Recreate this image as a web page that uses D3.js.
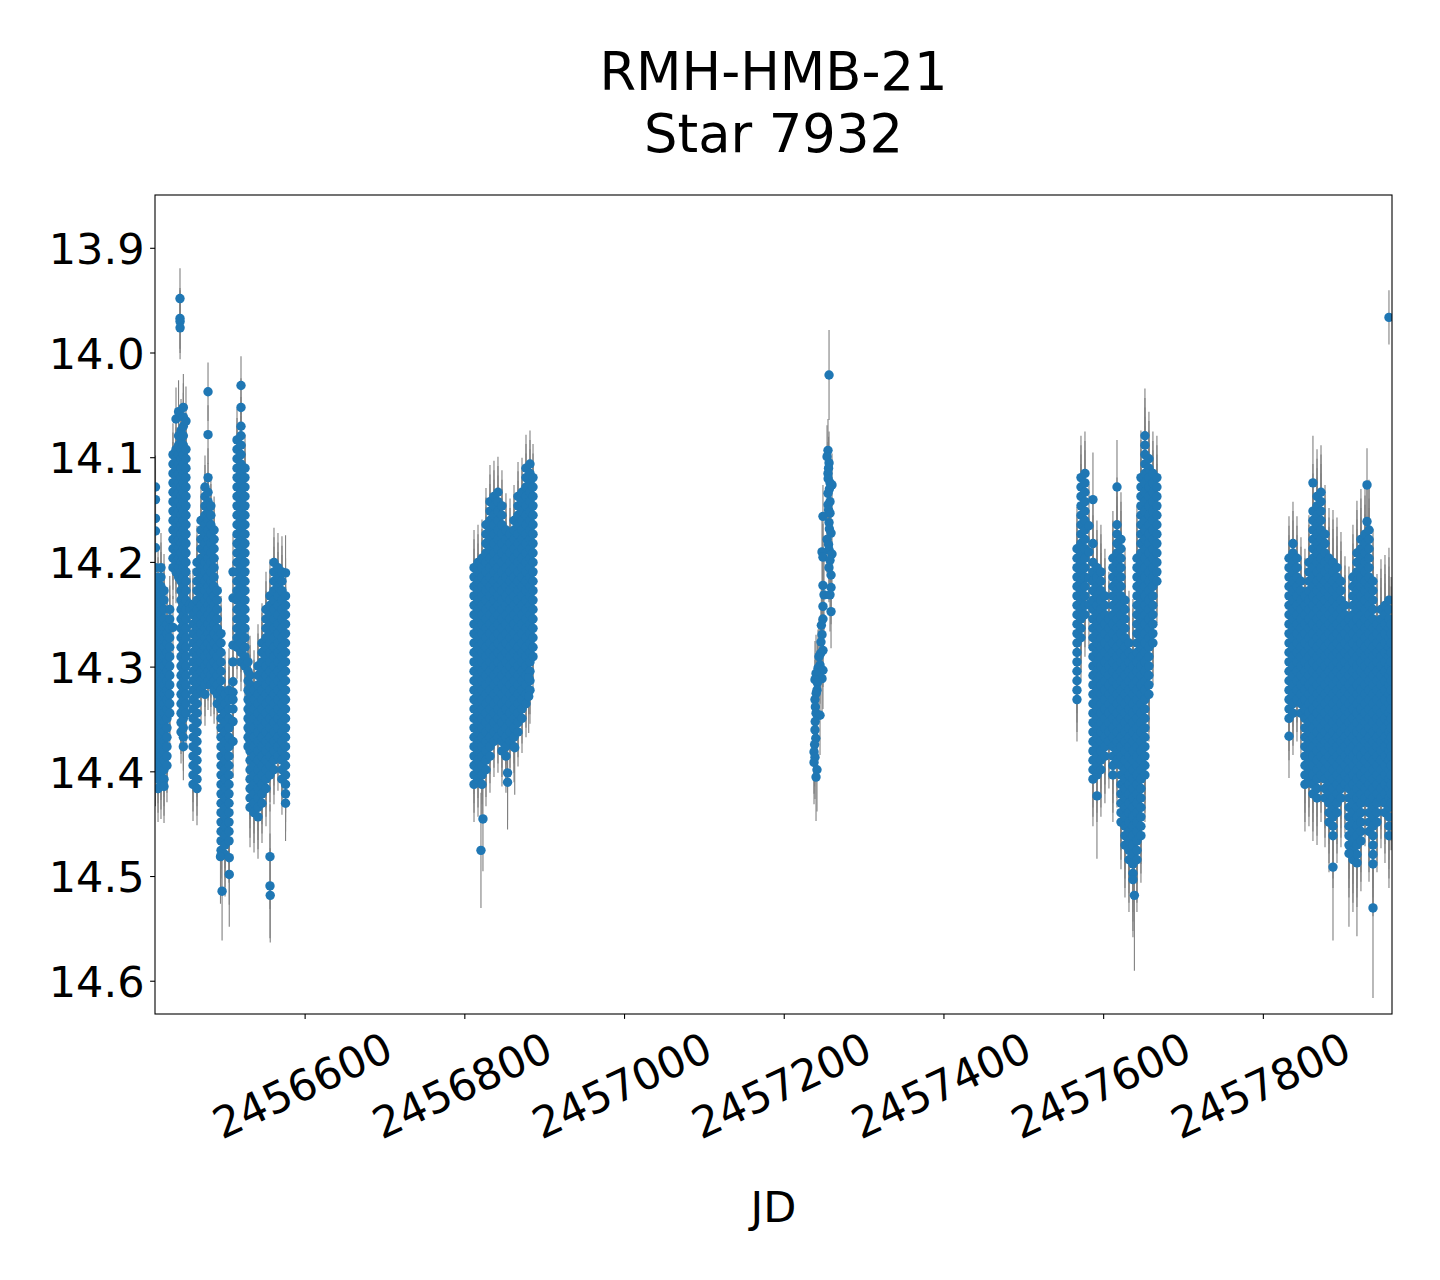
<!DOCTYPE html>
<html>
<head>
<meta charset="utf-8">
<script src="https://cdn.jsdelivr.net/npm/d3@7"></script>
<style>
  html, body { margin: 0; padding: 0; background: #ffffff; }
  svg { display: block; }
  text { font-family: "DejaVu Sans", sans-serif; fill: #000; }
</style>
</head>
<body>
<svg id="chart" width="1440" height="1280"></svg>
<script>
// ---------------- data ----------------
const titleLines = ["RMH-HMB-21", "Star 7932"];
const xLabel = "JD";
const JD0 = 2456000;                 // time values below are JD - 2456000
const xDomain = [2456412.0, 2457961.1];
const yDomain = [13.8491, 14.6313];  // inverted axis (bright at top)
const xTicks = [2456600, 2456800, 2457000, 2457200, 2457400, 2457600, 2457800];
const yTicks = [13.9, 14.0, 14.1, 14.2, 14.3, 14.4, 14.5, 14.6];

// Each entry: [time, error, [magnitudes measured that night]]
const season1 = [
 [412.6,.030,[14.128,14.140,14.158,14.170,14.186,14.205,14.214,14.223,14.232,14.241,14.250,14.259,14.268,14.277,14.286,14.295,14.304,14.313,14.322,14.331,14.340,14.349,14.358,14.367,14.376,14.385,14.394,14.403]],
 [415.8,.032,[14.218,14.227,14.236,14.245,14.254,14.263,14.272,14.281,14.290,14.299,14.308,14.317,14.326,14.335,14.344,14.353,14.362,14.371,14.380,14.389,14.398,14.407,14.416]],
 [419.5,.033,[14.205,14.214,14.223,14.232,14.241,14.250,14.259,14.268,14.277,14.286,14.295,14.304,14.313,14.322,14.331,14.340,14.349,14.358,14.367,14.376,14.385,14.394,14.403,14.412]],
 [423.3,.035,[14.227,14.236,14.245,14.254,14.263,14.272,14.281,14.290,14.299,14.308,14.317,14.326,14.335,14.344,14.353,14.362,14.371,14.380,14.389,14.398,14.407,14.414]],
 [427.0,.035,[14.259,14.268,14.277,14.286,14.295,14.304,14.313,14.322,14.331,14.340,14.349,14.358,14.367,14.376,14.385,14.394]],
 [430.5,.032,[14.245,14.254,14.263,14.272,14.281,14.290,14.299,14.308,14.317,14.326,14.335,14.344]],
 [434.5,.030,[14.097,14.106,14.115,14.124,14.133,14.142,14.151,14.160,14.169,14.178,14.187,14.196,14.205,14.262]],
 [438.3,.030,[14.063,14.092,14.101,14.110,14.119,14.128,14.137,14.146,14.155,14.164,14.173,14.182,14.191,14.200,14.209]],
 [441.5,.030,[14.056,14.079,14.088,14.097,14.106,14.115,14.124,14.133,14.142,14.151,14.160,14.169,14.178,14.187,14.196,14.205,14.214]],
 [444.6,.030,[14.074,14.083,14.092,14.101,14.110,14.119,14.128,14.137,14.146,14.155,14.164,14.173,14.182,14.191,14.200,14.209,14.218,14.227,14.236,14.245,14.254,14.263,14.272,14.281,14.290,14.299,14.308,14.317,14.326,14.335,14.344,14.353,14.362]],
 [447.5,.032,[14.052,14.061,14.070,14.079,14.088,14.097,14.106,14.115,14.124,14.133,14.142,14.151,14.160,14.169,14.178,14.187,14.196,14.205,14.214,14.223,14.232,14.241,14.250,14.259,14.268,14.277,14.286,14.295,14.304,14.313,14.322,14.331,14.340,14.349,14.358,14.367,14.376]],
 [450.8,.033,[14.065,14.092,14.101,14.110,14.119,14.128,14.137,14.146,14.155,14.164,14.173,14.182,14.191,14.200,14.209,14.218,14.227,14.236,14.245,14.254,14.263,14.272,14.281,14.290,14.299,14.308,14.317,14.326,14.335,14.344]],
 [455.8,.030,[14.240,14.245]],
 [459.6,.035,[14.241,14.250,14.259,14.268,14.277,14.286,14.295,14.304,14.313,14.322,14.331,14.340,14.349,14.358,14.367,14.376,14.385,14.394,14.403,14.412]],
 [464.6,.035,[14.200,14.209,14.218,14.227,14.236,14.245,14.254,14.263,14.272,14.281,14.290,14.299,14.308,14.317,14.326,14.335,14.344,14.353,14.362,14.371,14.380,14.389,14.398,14.407,14.416]],
 [469.6,.032,[14.160,14.169,14.178,14.187,14.196,14.205,14.214,14.223,14.232,14.241,14.250,14.259,14.268,14.277,14.286,14.295,14.304,14.313,14.322]],
 [474.6,.030,[14.128,14.137,14.146,14.155,14.164,14.173,14.182,14.191,14.200,14.209,14.218,14.227,14.236,14.245,14.254,14.263,14.272,14.281,14.290,14.299,14.308,14.317,14.326]],
 [478.4,.028,[14.037,14.078,14.119,14.133,14.142,14.151,14.160,14.169,14.178,14.187,14.196,14.205,14.214,14.223,14.232,14.241,14.250,14.259,14.268,14.277,14.286,14.295,14.304,14.313]],
 [482.0,.030,[14.146,14.155,14.164,14.173,14.182,14.191,14.200,14.209,14.218,14.227,14.236,14.245,14.254,14.263,14.272,14.281,14.290,14.299,14.308,14.317]],
 [486.0,.032,[14.169,14.178,14.187,14.196,14.205,14.214,14.223,14.232,14.241,14.250,14.259,14.268,14.277,14.286,14.295,14.304,14.313,14.322]],
 [490.0,.032,[14.227,14.236,14.245,14.254,14.263,14.272,14.281,14.290,14.299,14.308,14.317,14.326,14.335]],
 [494.7,.036,[14.268,14.277,14.286,14.295,14.304,14.313,14.322,14.331,14.340,14.349,14.358,14.367,14.376,14.385,14.394,14.403,14.412,14.421,14.430,14.439,14.448,14.457,14.466,14.475]],
 [499.7,.040,[14.326,14.335,14.344,14.353,14.362,14.371,14.380,14.389,14.398,14.407,14.416,14.425,14.434,14.443,14.452,14.461,14.470,14.479]],
 [504.7,.040,[14.322,14.331,14.340,14.349,14.358,14.367,14.376,14.385,14.394,14.403,14.412,14.421,14.430,14.439,14.448,14.457,14.466]],
 [509.7,.035,[14.209,14.234,14.279,14.295,14.314,14.324,14.331,14.340,14.352,14.371]],
 [514.7,.030,[14.083,14.092,14.101,14.110,14.119,14.128,14.137,14.146,14.155,14.164,14.173,14.182,14.191,14.200,14.209,14.218,14.227,14.236,14.245,14.254,14.263,14.272,14.281]],
 [519.7,.028,[14.031,14.052,14.070,14.079,14.088,14.097,14.106,14.115,14.124,14.133,14.142,14.151,14.160,14.169,14.178,14.187,14.196,14.205,14.214,14.223,14.232,14.241,14.250,14.259,14.268,14.277,14.286,14.295]],
 [524.7,.032,[14.110,14.119,14.128,14.137,14.146,14.155,14.164,14.173,14.182,14.191,14.200,14.209,14.218,14.227,14.236,14.245,14.254,14.263,14.272,14.281,14.290,14.299]],
 [528.5,.035,[14.295,14.304,14.313,14.322,14.331,14.340,14.349,14.358,14.367,14.376]],
 [531.0,.038,[14.308,14.317,14.326,14.335,14.344,14.353,14.362,14.371,14.380,14.389,14.398,14.407,14.416,14.425,14.434]],
 [536.0,.038,[14.322,14.331,14.340,14.349,14.358,14.367,14.376,14.385,14.394,14.403,14.412,14.421,14.430,14.439]],
 [541.0,.040,[14.299,14.308,14.317,14.326,14.335,14.344,14.353,14.362,14.371,14.380,14.389,14.398,14.407,14.416,14.425,14.434,14.443]],
 [546.0,.038,[14.277,14.286,14.295,14.304,14.313,14.322,14.331,14.340,14.349,14.358,14.367,14.376,14.385,14.394,14.403,14.412,14.421,14.430]],
 [551.0,.036,[14.245,14.254,14.263,14.272,14.281,14.290,14.299,14.308,14.317,14.326,14.335,14.344,14.353,14.362,14.371,14.380,14.389,14.398,14.407,14.416]],
 [556.0,.035,[14.232,14.241,14.250,14.259,14.268,14.277,14.286,14.295,14.304,14.313,14.322,14.331,14.340,14.349,14.358,14.367,14.376,14.385,14.394,14.403]],
 [561.0,.033,[14.200,14.209,14.218,14.227,14.236,14.245,14.254,14.263,14.272,14.281,14.290,14.299,14.308,14.317,14.326,14.335,14.344,14.353,14.362,14.371,14.380,14.389,14.398]],
 [566.0,.033,[14.205,14.214,14.223,14.232,14.241,14.250,14.259,14.268,14.277,14.286,14.295,14.304,14.313,14.322,14.331,14.340,14.349,14.358,14.367,14.376,14.385]],
 [571.0,.034,[14.209,14.218,14.227,14.236,14.245,14.254,14.263,14.272,14.281,14.290,14.299,14.308,14.317,14.326,14.335,14.344,14.353,14.362,14.371,14.380,14.389,14.398,14.407]],
 [575.5,.036,[14.210,14.232,14.241,14.250,14.259,14.268,14.277,14.286,14.295,14.304,14.313,14.322,14.331,14.340,14.349,14.358,14.367,14.376,14.385,14.394,14.403,14.412,14.421,14.430]]
];

const season2 = [
 [811.5,.036,[14.205,14.214,14.223,14.232,14.241,14.250,14.259,14.268,14.277,14.286,14.295,14.304,14.313,14.322,14.331,14.340,14.349,14.358,14.367,14.376,14.385,14.394,14.403,14.412]],
 [816.5,.036,[14.200,14.209,14.218,14.227,14.236,14.245,14.254,14.263,14.272,14.281,14.290,14.299,14.308,14.317,14.326,14.335,14.344,14.353,14.362,14.371,14.380,14.389,14.398,14.407]],
 [821.5,.037,[14.196,14.205,14.214,14.223,14.232,14.241,14.250,14.259,14.268,14.277,14.286,14.295,14.304,14.313,14.322,14.331,14.340,14.349,14.358,14.367,14.376,14.385,14.394,14.403,14.412]],
 [826.5,.035,[14.164,14.173,14.182,14.191,14.200,14.209,14.218,14.227,14.236,14.245,14.254,14.263,14.272,14.281,14.290,14.299,14.308,14.317,14.326,14.335,14.344,14.353,14.362,14.371,14.380,14.389,14.398]],
 [831.5,.035,[14.142,14.151,14.160,14.169,14.178,14.187,14.196,14.205,14.214,14.223,14.232,14.241,14.250,14.259,14.268,14.277,14.286,14.295,14.304,14.313,14.322,14.331,14.340,14.349,14.358,14.367,14.376,14.385]],
 [836.5,.034,[14.137,14.146,14.155,14.164,14.173,14.182,14.191,14.200,14.209,14.218,14.227,14.236,14.245,14.254,14.263,14.272,14.281,14.290,14.299,14.308,14.317,14.326,14.335,14.344,14.353,14.362,14.371]],
 [841.5,.034,[14.133,14.142,14.151,14.160,14.169,14.178,14.187,14.196,14.205,14.214,14.223,14.232,14.241,14.250,14.259,14.268,14.277,14.286,14.295,14.304,14.313,14.322,14.331,14.340,14.349,14.358,14.367]],
 [846.5,.034,[14.146,14.155,14.164,14.173,14.182,14.191,14.200,14.209,14.218,14.227,14.236,14.245,14.254,14.263,14.272,14.281,14.290,14.299,14.308,14.317,14.326,14.335,14.344,14.353,14.362,14.371,14.380]],
 [851.5,.035,[14.169,14.178,14.187,14.196,14.205,14.214,14.223,14.232,14.241,14.250,14.259,14.268,14.277,14.286,14.295,14.304,14.313,14.322,14.331,14.340,14.349,14.358,14.367,14.376,14.385]],
 [856.6,.034,[14.173,14.182,14.191,14.200,14.209,14.218,14.227,14.236,14.245,14.254,14.263,14.272,14.281,14.290,14.299,14.308,14.317,14.326,14.335,14.344,14.353,14.362,14.371]],
 [861.6,.034,[14.160,14.169,14.178,14.187,14.196,14.205,14.214,14.223,14.232,14.241,14.250,14.259,14.268,14.277,14.286,14.295,14.304,14.313,14.322,14.331,14.340,14.349,14.358,14.367,14.376]],
 [866.6,.033,[14.137,14.146,14.155,14.164,14.173,14.182,14.191,14.200,14.209,14.218,14.227,14.236,14.245,14.254,14.263,14.272,14.281,14.290,14.299,14.308,14.317,14.326,14.335,14.344,14.353,14.362]],
 [871.6,.033,[14.133,14.142,14.151,14.160,14.169,14.178,14.187,14.196,14.205,14.214,14.223,14.232,14.241,14.250,14.259,14.268,14.277,14.286,14.295,14.304,14.313,14.322,14.331,14.340,14.349]],
 [876.6,.032,[14.110,14.119,14.128,14.137,14.146,14.155,14.164,14.173,14.182,14.191,14.200,14.209,14.218,14.227,14.236,14.245,14.254,14.263,14.272,14.281,14.290,14.299,14.308,14.317,14.326,14.335]],
 [881.6,.032,[14.106,14.115,14.124,14.133,14.142,14.151,14.160,14.169,14.178,14.187,14.196,14.205,14.214,14.223,14.232,14.241,14.250,14.259,14.268,14.277,14.286,14.295,14.304,14.313,14.322]],
 [885.4,.032,[14.119,14.128,14.137,14.146,14.155,14.164,14.173,14.182,14.191,14.200,14.209,14.218,14.227,14.236,14.245,14.254,14.263,14.272,14.281,14.290]]
];

const season4 = [
 [1566.6,.040,[14.187,14.196,14.205,14.214,14.223,14.232,14.241,14.250,14.259,14.268,14.277,14.286,14.295,14.304,14.313,14.322,14.331]],
 [1571.6,.040,[14.119,14.128,14.137,14.146,14.155,14.164,14.173,14.182,14.191,14.200,14.209,14.218,14.227,14.236,14.245,14.254,14.263,14.272]],
 [1576.6,.040,[14.115,14.124,14.133,14.142,14.151,14.160,14.169,14.178,14.187,14.196,14.205,14.214,14.223,14.232,14.241,14.250]],
 [1581.6,.040,[14.165,14.190,14.215,14.240]],
 [1586.6,.045,[14.140,14.182,14.200,14.209,14.218,14.227,14.236,14.245,14.254,14.263,14.272,14.281,14.290,14.299,14.308,14.317,14.326,14.335,14.344,14.353,14.362,14.371,14.380,14.389,14.398,14.407]],
 [1591.6,.045,[14.205,14.214,14.223,14.232,14.241,14.250,14.259,14.268,14.277,14.286,14.295,14.304,14.313,14.322,14.331,14.340,14.349,14.358,14.367,14.376,14.385,14.394,14.403]],
 [1596.6,.045,[14.209,14.218,14.227,14.236,14.245,14.254,14.263,14.272,14.281,14.290,14.299,14.308,14.317,14.326,14.335,14.344,14.353,14.362,14.371,14.380,14.389,14.398]],
 [1601.6,.045,[14.232,14.241,14.250,14.259,14.268,14.277,14.286,14.295,14.304,14.313,14.322,14.331,14.340,14.349,14.358,14.367,14.376,14.385]],
 [1606.6,.045,[14.254,14.263,14.272,14.281,14.290,14.299,14.308,14.317,14.326,14.335,14.344,14.353,14.362,14.371]],
 [1611.6,.045,[14.196,14.205,14.214,14.223,14.232,14.241,14.250,14.259,14.268,14.277,14.286,14.295,14.304,14.313,14.322,14.331,14.340,14.349,14.358,14.367,14.376,14.385,14.394,14.403]],
 [1616.7,.045,[14.128,14.164,14.173,14.182,14.191,14.200,14.209,14.218,14.227,14.236,14.245,14.254,14.263,14.272,14.281,14.290,14.299,14.308,14.317,14.326,14.335,14.344,14.353,14.362,14.371,14.380,14.389]],
 [1621.7,.045,[14.178,14.187,14.196,14.205,14.214,14.223,14.232,14.241,14.250,14.259,14.268,14.277,14.286,14.295,14.304,14.313,14.322,14.331,14.340,14.349,14.358,14.367,14.376,14.385,14.394,14.403,14.412,14.421,14.430,14.439,14.448]],
 [1626.7,.050,[14.236,14.245,14.254,14.263,14.272,14.281,14.290,14.299,14.308,14.317,14.326,14.335,14.344,14.353,14.362,14.371,14.380,14.389,14.398,14.407,14.416,14.425,14.434,14.443,14.452,14.461,14.470]],
 [1631.7,.050,[14.277,14.286,14.295,14.304,14.313,14.322,14.331,14.340,14.349,14.358,14.367,14.376,14.385,14.394,14.403,14.412,14.421,14.430,14.439,14.448,14.457,14.466,14.475,14.484]],
 [1636.7,.055,[14.290,14.299,14.308,14.317,14.326,14.335,14.344,14.353,14.362,14.371,14.380,14.389,14.398,14.407,14.416,14.425,14.434,14.443,14.452,14.461,14.470,14.479,14.488,14.497,14.503]],
 [1641.7,.050,[14.196,14.205,14.214,14.223,14.232,14.241,14.250,14.259,14.268,14.277,14.286,14.295,14.304,14.313,14.322,14.331,14.340,14.349,14.358,14.367,14.376,14.385,14.394,14.403,14.412,14.421,14.430,14.439,14.448,14.457,14.466,14.475,14.484]],
 [1646.7,.045,[14.119,14.128,14.137,14.146,14.155,14.164,14.173,14.182,14.191,14.200,14.209,14.218,14.227,14.236,14.245,14.254,14.263,14.272,14.281,14.290,14.299,14.308,14.317,14.326,14.335,14.344,14.353,14.362,14.371,14.380,14.389,14.398,14.407,14.416,14.425,14.434,14.443,14.452,14.461]],
 [1651.7,.045,[14.079,14.088,14.097,14.106,14.115,14.124,14.133,14.142,14.151,14.160,14.169,14.178,14.187,14.196,14.205,14.214,14.223,14.232,14.241,14.250,14.259,14.268,14.277,14.286,14.295,14.304,14.313,14.322,14.331,14.340,14.349,14.358,14.367,14.376,14.385,14.394,14.403]],
 [1656.7,.045,[14.101,14.110,14.119,14.128,14.137,14.146,14.155,14.164,14.173,14.182,14.191,14.200,14.209,14.218,14.227,14.236,14.245,14.254,14.263,14.272,14.281,14.290,14.299,14.308,14.317,14.326]],
 [1661.7,.040,[14.115,14.124,14.133,14.142,14.151,14.160,14.169,14.178,14.187,14.196,14.205,14.214,14.223,14.232,14.241,14.250,14.259,14.268,14.277]],
 [1666.7,.040,[14.119,14.128,14.137,14.146,14.155,14.164,14.173,14.182,14.191,14.200,14.209,14.218]]
];

const season5 = [
 [1832.1,.040,[14.196,14.205,14.214,14.223,14.232,14.241,14.250,14.259,14.268,14.277,14.286,14.295,14.304,14.313,14.322,14.331,14.340,14.349,14.366]],
 [1837.1,.040,[14.182,14.191,14.200,14.209,14.218,14.227,14.236,14.245,14.254,14.263,14.272,14.281,14.290,14.299,14.308,14.317,14.326,14.335,14.344]],
 [1842.1,.040,[14.196,14.205,14.214,14.223,14.232,14.241,14.250,14.259,14.268,14.277,14.286,14.295,14.304,14.313,14.322,14.331]],
 [1847.1,.042,[14.218,14.227,14.236,14.245,14.254,14.263,14.272,14.281,14.290,14.299,14.308,14.317,14.326,14.335,14.344]],
 [1852.1,.045,[14.232,14.241,14.250,14.259,14.268,14.277,14.286,14.295,14.304,14.313,14.322,14.331,14.340,14.349,14.358,14.367,14.376,14.385,14.394,14.403,14.412]],
 [1857.1,.045,[14.200,14.209,14.218,14.227,14.236,14.245,14.254,14.263,14.272,14.281,14.290,14.299,14.308,14.317,14.326,14.335,14.344,14.353,14.362,14.371,14.380,14.389,14.398,14.407]],
 [1862.1,.045,[14.124,14.151,14.160,14.169,14.178,14.187,14.196,14.205,14.214,14.223,14.232,14.241,14.250,14.259,14.268,14.277,14.286,14.295,14.304,14.313,14.322,14.331,14.340,14.349,14.358,14.367,14.376,14.385,14.394,14.403,14.412,14.421]],
 [1867.2,.045,[14.137,14.146,14.155,14.164,14.173,14.182,14.191,14.200,14.209,14.218,14.227,14.236,14.245,14.254,14.263,14.272,14.281,14.290,14.299,14.308,14.317,14.326,14.335,14.344,14.353,14.362,14.371,14.380,14.389,14.398,14.407,14.416,14.425]],
 [1872.2,.045,[14.133,14.142,14.151,14.160,14.169,14.178,14.187,14.196,14.205,14.214,14.223,14.232,14.241,14.250,14.259,14.268,14.277,14.286,14.295,14.304,14.313,14.322,14.331,14.340,14.349,14.358,14.367,14.376,14.385,14.394,14.403]],
 [1877.2,.047,[14.173,14.182,14.191,14.200,14.209,14.218,14.227,14.236,14.245,14.254,14.263,14.272,14.281,14.290,14.299,14.308,14.317,14.326,14.335,14.344,14.353,14.362,14.371,14.380,14.389,14.398,14.407,14.416,14.425]],
 [1882.2,.048,[14.196,14.205,14.214,14.223,14.232,14.241,14.250,14.259,14.268,14.277,14.286,14.295,14.304,14.313,14.322,14.331,14.340,14.349,14.358,14.367,14.376,14.385,14.394,14.403,14.412,14.421,14.430,14.439,14.448]],
 [1887.2,.050,[14.200,14.209,14.218,14.227,14.236,14.245,14.254,14.263,14.272,14.281,14.290,14.299,14.308,14.317,14.326,14.335,14.344,14.353,14.362,14.371,14.380,14.389,14.398,14.407,14.416,14.425,14.434,14.443,14.452,14.461]],
 [1892.2,.048,[14.205,14.214,14.223,14.232,14.241,14.250,14.259,14.268,14.277,14.286,14.295,14.304,14.313,14.322,14.331,14.340,14.349,14.358,14.367,14.376,14.385,14.394,14.403,14.412,14.421,14.430,14.439]],
 [1897.2,.047,[14.218,14.227,14.236,14.245,14.254,14.263,14.272,14.281,14.290,14.299,14.308,14.317,14.326,14.335,14.344,14.353,14.362,14.371,14.380,14.389,14.398,14.407,14.416,14.425]],
 [1902.2,.047,[14.241,14.250,14.259,14.268,14.277,14.286,14.295,14.304,14.313,14.322,14.331,14.340,14.349,14.358,14.367,14.376,14.385,14.394,14.403,14.412]],
 [1907.2,.050,[14.254,14.263,14.272,14.281,14.290,14.299,14.308,14.317,14.326,14.335,14.344,14.353,14.362,14.371,14.380,14.389,14.398,14.407,14.416,14.425,14.434,14.443,14.452,14.461,14.470]],
 [1912.2,.050,[14.214,14.223,14.232,14.241,14.250,14.259,14.268,14.277,14.286,14.295,14.304,14.313,14.322,14.331,14.340,14.349,14.358,14.367,14.376,14.385,14.394,14.403,14.412,14.421,14.430,14.439,14.448,14.457,14.466,14.475,14.484]],
 [1917.2,.050,[14.191,14.200,14.209,14.218,14.227,14.236,14.245,14.254,14.263,14.272,14.281,14.290,14.299,14.308,14.317,14.326,14.335,14.344,14.353,14.362,14.371,14.380,14.389,14.398,14.407,14.416,14.425,14.434,14.443,14.452,14.461,14.470,14.479]],
 [1922.2,.048,[14.178,14.187,14.196,14.205,14.214,14.223,14.232,14.241,14.250,14.259,14.268,14.277,14.286,14.295,14.304,14.313,14.322,14.331,14.340,14.349,14.358,14.367,14.376,14.385,14.394,14.403,14.412,14.421,14.430,14.439,14.448,14.457,14.466]],
 [1927.3,.046,[14.173,14.182,14.191,14.200,14.209,14.218,14.227,14.236,14.245,14.254,14.263,14.272,14.281,14.290,14.299,14.308,14.317,14.326,14.335,14.344,14.353,14.362,14.371,14.380,14.389,14.398,14.407,14.416,14.425]],
 [1929.8,.035,[14.126,14.161]],
 [1932.3,.048,[14.169,14.178,14.187,14.196,14.205,14.214,14.223,14.232,14.241,14.250,14.259,14.268,14.277,14.286,14.295,14.304,14.313,14.322,14.331,14.340,14.349,14.358,14.367,14.376,14.385,14.394,14.403,14.412,14.421,14.430,14.439,14.448,14.457]],
 [1937.3,.050,[14.218,14.227,14.236,14.245,14.254,14.263,14.272,14.281,14.290,14.299,14.308,14.317,14.326,14.335,14.344,14.353,14.362,14.371,14.380,14.389,14.398,14.407,14.416,14.425,14.434,14.443,14.452,14.461,14.470,14.479,14.488]],
 [1942.3,.048,[14.259,14.268,14.277,14.286,14.295,14.304,14.313,14.322,14.331,14.340,14.349,14.358,14.367,14.376,14.385,14.394,14.403,14.412,14.421,14.430,14.439,14.448]],
 [1947.3,.048,[14.245,14.254,14.263,14.272,14.281,14.290,14.299,14.308,14.317,14.326,14.335,14.344,14.353,14.362,14.371,14.380,14.389,14.398,14.407,14.416,14.425]],
 [1952.3,.048,[14.241,14.250,14.259,14.268,14.277,14.286,14.295,14.304,14.313,14.322,14.331,14.340,14.349,14.358,14.367,14.376,14.385,14.394,14.403,14.412,14.421,14.430,14.439]],
 [1957.3,.050,[14.236,14.245,14.254,14.263,14.272,14.281,14.290,14.299,14.308,14.317,14.326,14.335,14.344,14.353,14.362,14.371,14.380,14.389,14.398,14.407,14.416,14.425,14.434,14.443,14.452,14.461]],
 [1960.0,.045,[14.259,14.268,14.277,14.286,14.295,14.304,14.313,14.322,14.331,14.340,14.349,14.358,14.367,14.376,14.385,14.394,14.403,14.412,14.421,14.430]]
];

// Individual measurements: [time, magnitude, error]
const season3 = [
 [1256.1,14.021,.043],[1254.8,14.093,.030],[1253.6,14.099,.030],[1256.1,14.105,.030],[1255.5,14.110,.030],
 [1254.8,14.115,.030],[1255.0,14.120,.030],[1257.3,14.124,.030],[1259.8,14.126,.030],[1256.5,14.130,.030],
 [1254.8,14.134,.030],[1257.3,14.142,.030],[1254.8,14.145,.030],[1255.5,14.150,.030],[1257.3,14.153,.030],
 [1248.5,14.156,.030],[1256.1,14.162,.030],[1256.5,14.168,.030],[1258.6,14.172,.032],[1253.6,14.178,.032],
 [1255.5,14.183,.032],[1256.1,14.188,.032],[1247.3,14.190,.032],[1259.8,14.192,.032],[1248.5,14.195,.032],
 [1257.3,14.198,.032],[1256.0,14.205,.033],[1258.6,14.212,.035],[1248.5,14.222,.035],[1258.6,14.224,.035],
 [1249.8,14.231,.035],[1257.3,14.231,.035],[1248.5,14.242,.035],[1258.6,14.247,.035],[1248.5,14.254,.035],
 [1246.5,14.260,.035],[1247.3,14.269,.035],[1246.0,14.276,.035],[1248.5,14.284,.035],[1245.5,14.287,.035],
 [1243.5,14.290,.036],[1244.8,14.298,.037],[1242.3,14.301,.037],[1248.5,14.303,.037],[1239.8,14.306,.037],
 [1247.3,14.311,.037],[1238.5,14.312,.037],[1241.5,14.315,.037],[1241.0,14.322,.037],[1240.0,14.325,.037],
 [1238.5,14.331,.038],[1239.0,14.338,.038],[1239.8,14.344,.038],[1244.8,14.346,.038],[1238.8,14.352,.038],
 [1238.5,14.360,.040],[1239.5,14.368,.040],[1238.0,14.374,.040],[1237.3,14.381,.040],[1238.5,14.386,.040],
 [1237.3,14.391,.040],[1241.0,14.398,.040],[1239.8,14.405,.042]
];

const singles = [
 [443.3,13.948,.029],[443.3,13.967,.029],[443.4,13.970,.030],[443.4,13.976,.030],
 [496.0,14.514,.047],[494.0,14.481,.045],[505.0,14.482,.045],[505.0,14.498,.050],
 [556.0,14.481,.050],[556.0,14.509,.050],[556.3,14.518,.045],
 [820.2,14.475,.055],[822.7,14.445,.050],[853.5,14.401,.045],[853.5,14.410,.045],
 [862.5,14.377,.045],[880.0,14.310,.035],[880.0,14.328,.035],
 [1638.5,14.518,.072],[1591.6,14.423,.060],
 [1957.3,13.966,.026],[1887.2,14.491,.070],[1937.3,14.530,.086],[1907.2,14.478,.070],[1917.2,14.487,.070]
];

// ---------------- drawing ----------------
const W = 1440, H = 1280;
const plot = {left: 155, right: 1392, top: 195, bottom: 1014};
const svg = d3.select("#chart");
svg.append("rect").attr("width", W).attr("height", H).attr("fill", "#ffffff");

const x = d3.scaleLinear().domain(xDomain).range([plot.left, plot.right]);
const y = d3.scaleLinear().domain(yDomain).range([plot.top, plot.bottom]);

const points = [];
[season1, season2, season4, season5].forEach(season => {
  season.forEach(([t, e, mags]) => mags.forEach(m => points.push({jd: JD0 + t, mag: m, err: e})));
});
season3.forEach(([t, m, e]) => points.push({jd: JD0 + t, mag: m, err: e}));
singles.forEach(([t, m, e]) => points.push({jd: JD0 + t, mag: m, err: e}));

svg.append("defs").append("clipPath").attr("id", "plotclip")
  .append("rect").attr("x", plot.left).attr("y", plot.top)
  .attr("width", plot.right - plot.left).attr("height", plot.bottom - plot.top);

const data = svg.append("g").attr("clip-path", "url(#plotclip)");
data.append("g").selectAll("line").data(points).join("line")
  .attr("x1", d => x(d.jd)).attr("x2", d => x(d.jd))
  .attr("y1", d => y(d.mag - d.err)).attr("y2", d => y(d.mag + d.err))
  .attr("stroke", "#808080").attr("stroke-width", 1.1);
data.append("g").selectAll("circle").data(points).join("circle")
  .attr("cx", d => x(d.jd)).attr("cy", d => y(d.mag))
  .attr("r", 4.7).attr("fill", "#1f77b4");

// axes
const fs = 43;
const yAxis = svg.append("g");
yAxis.selectAll("line").data(yTicks).join("line")
  .attr("x1", plot.left - 4.9).attr("x2", plot.left)
  .attr("y1", d => y(d)).attr("y2", d => y(d))
  .attr("stroke", "#000").attr("stroke-width", 1.1);
yAxis.selectAll("text").data(yTicks).join("text")
  .attr("x", plot.left - 10.5).attr("y", d => y(d) + 0.365 * fs)
  .attr("text-anchor", "end").attr("font-size", fs)
  .text(d => d.toFixed(1));

const xAxis = svg.append("g");
xAxis.selectAll("line").data(xTicks).join("line")
  .attr("x1", d => x(d)).attr("x2", d => x(d))
  .attr("y1", plot.bottom).attr("y2", plot.bottom + 4.9)
  .attr("stroke", "#000").attr("stroke-width", 1.1);
xAxis.selectAll("g").data(xTicks).join("g")
  .attr("transform", d => `translate(${x(d) - 3},1085) rotate(-25)`)
  .append("text").attr("text-anchor", "middle").attr("dy", (0.365 * fs).toFixed(1))
  .attr("font-size", fs).text(d => String(d));

svg.append("text").attr("x", (plot.left + plot.right) / 2).attr("y", 1222)
  .attr("text-anchor", "middle").attr("font-size", fs).text(xLabel);

const title = svg.append("text").attr("text-anchor", "middle").attr("font-size", 52.7);
titleLines.forEach((line, i) => {
  title.append("tspan").attr("x", (plot.left + plot.right) / 2).attr("y", 90 + i * 62).text(line);
});

svg.append("rect").attr("x", plot.left).attr("y", plot.top)
  .attr("width", plot.right - plot.left).attr("height", plot.bottom - plot.top)
  .attr("fill", "none").attr("stroke", "#000").attr("stroke-width", 1.1);
</script>
</body>
</html>
